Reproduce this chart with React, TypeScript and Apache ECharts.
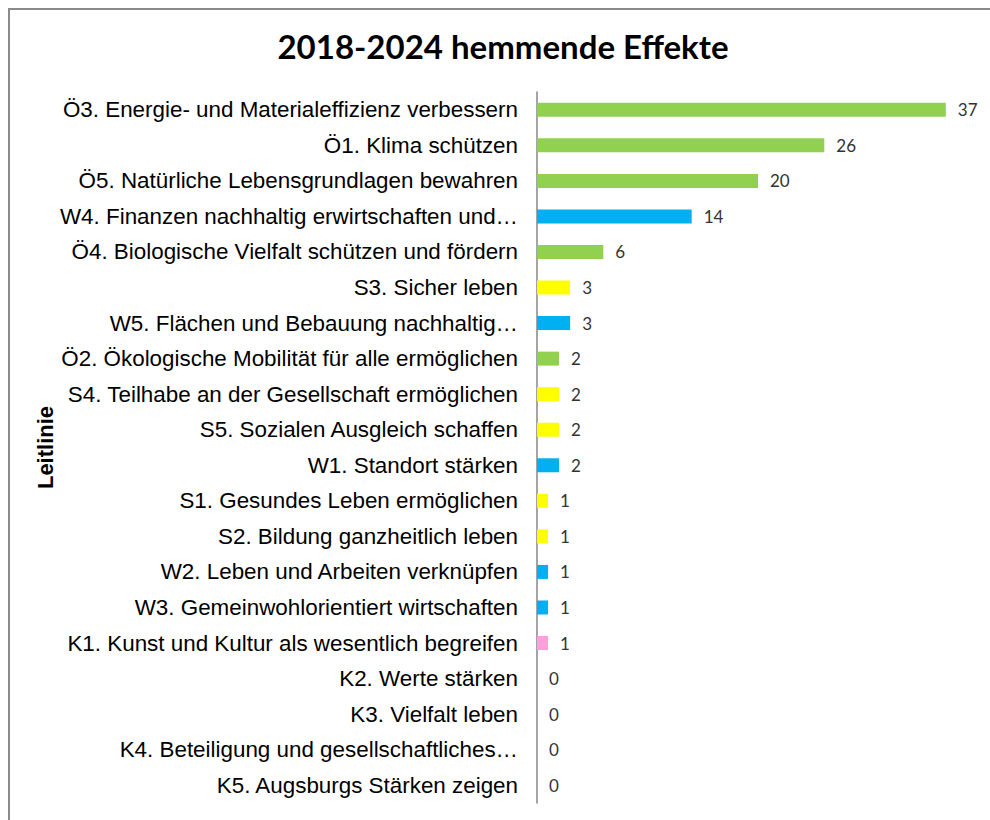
import React, { useEffect, useRef } from "react";
import * as echarts from "echarts";

const categories: string[] = [
  "Ö3. Energie- und Materialeffizienz verbessern",
  "Ö1. Klima schützen",
  "Ö5. Natürliche Lebensgrundlagen bewahren",
  "W4. Finanzen nachhaltig erwirtschaften und…",
  "Ö4. Biologische Vielfalt schützen und fördern",
  "S3. Sicher leben",
  "W5. Flächen und Bebauung nachhaltig…",
  "Ö2. Ökologische Mobilität für alle ermöglichen",
  "S4. Teilhabe an der Gesellschaft ermöglichen",
  "S5. Sozialen Ausgleich schaffen",
  "W1. Standort stärken",
  "S1. Gesundes Leben ermöglichen",
  "S2. Bildung ganzheitlich leben",
  "W2. Leben und Arbeiten verknüpfen",
  "W3. Gemeinwohlorientiert wirtschaften",
  "K1. Kunst und Kultur als wesentlich begreifen",
  "K2. Werte stärken",
  "K3. Vielfalt leben",
  "K4. Beteiligung und gesellschaftliches…",
  "K5. Augsburgs Stärken zeigen",
];

const values: number[] = [37, 26, 20, 14, 6, 3, 3, 2, 2, 2, 2, 1, 1, 1, 1, 1, 0, 0, 0, 0];

const groupColors: Record<string, string> = {
  "Ö": "#92D050",
  W: "#00B0F0",
  S: "#FFFF00",
  K: "#FF9FDB",
};

const title = "2018-2024 hemmende Effekte";
const axisName = "Leitlinie";

export default function App() {
  const ref = useRef<HTMLDivElement>(null);
  useEffect(() => {
    if (!ref.current) return;
    const chart = echarts.init(ref.current, null, { renderer: "svg" });
    chart.setOption({
      animation: false,
      backgroundColor: "#ffffff",
      title: {
        text: title,
        left: 498,
        top: 24,
        textAlign: "center",
        textStyle: {
          fontFamily: "Lato",
          fontWeight: "bold",
          fontSize: 33,
          color: "#000000",
        },
      },
      graphic: [
        {
          type: "polyline",
          shape: { points: [[9, 830], [9, 9], [1000, 9]] },
          style: { stroke: "#8a8a8a", lineWidth: 2, fill: "none" },
          silent: true,
        },
      ],
      grid: {
        left: 537,
        top: 92,
        width: 442,
        height: 711,
        containLabel: false,
      },
      xAxis: {
        type: "value",
        min: 0,
        max: 40,
        show: false,
        splitLine: { show: false },
      },
      yAxis: {
        type: "category",
        data: categories,
        inverse: true,
        name: axisName,
        nameLocation: "middle",
        nameGap: 480,
        nameTextStyle: {
          fontFamily: "Liberation Sans",
          fontWeight: "bold",
          fontSize: 22,
          color: "#000000",
        },
        axisLine: { show: true, lineStyle: { color: "#868686", width: 1.5 } },
        axisTick: { show: false },
        axisLabel: {
          fontFamily: "Liberation Sans",
          fontSize: 22.4,
          color: "#000000",
          margin: 19,
        },
      },
      series: [
        {
          type: "bar",
          barWidth: 14,
          data: values.map((v, i) => ({
            value: v,
            itemStyle: { color: groupColors[categories[i].charAt(0)] },
          })),
          label: {
            show: true,
            position: "right",
            distance: 12,
            fontFamily: "Lato",
            fontSize: 17,
            color: "#333333",
          },
        },
      ],
    });
    return () => chart.dispose();
  }, []);
  return (
    <div
      ref={ref}
      style={{ position: "absolute", left: 0, top: 0, width: 990, height: 820 }}
    />
  );
}
